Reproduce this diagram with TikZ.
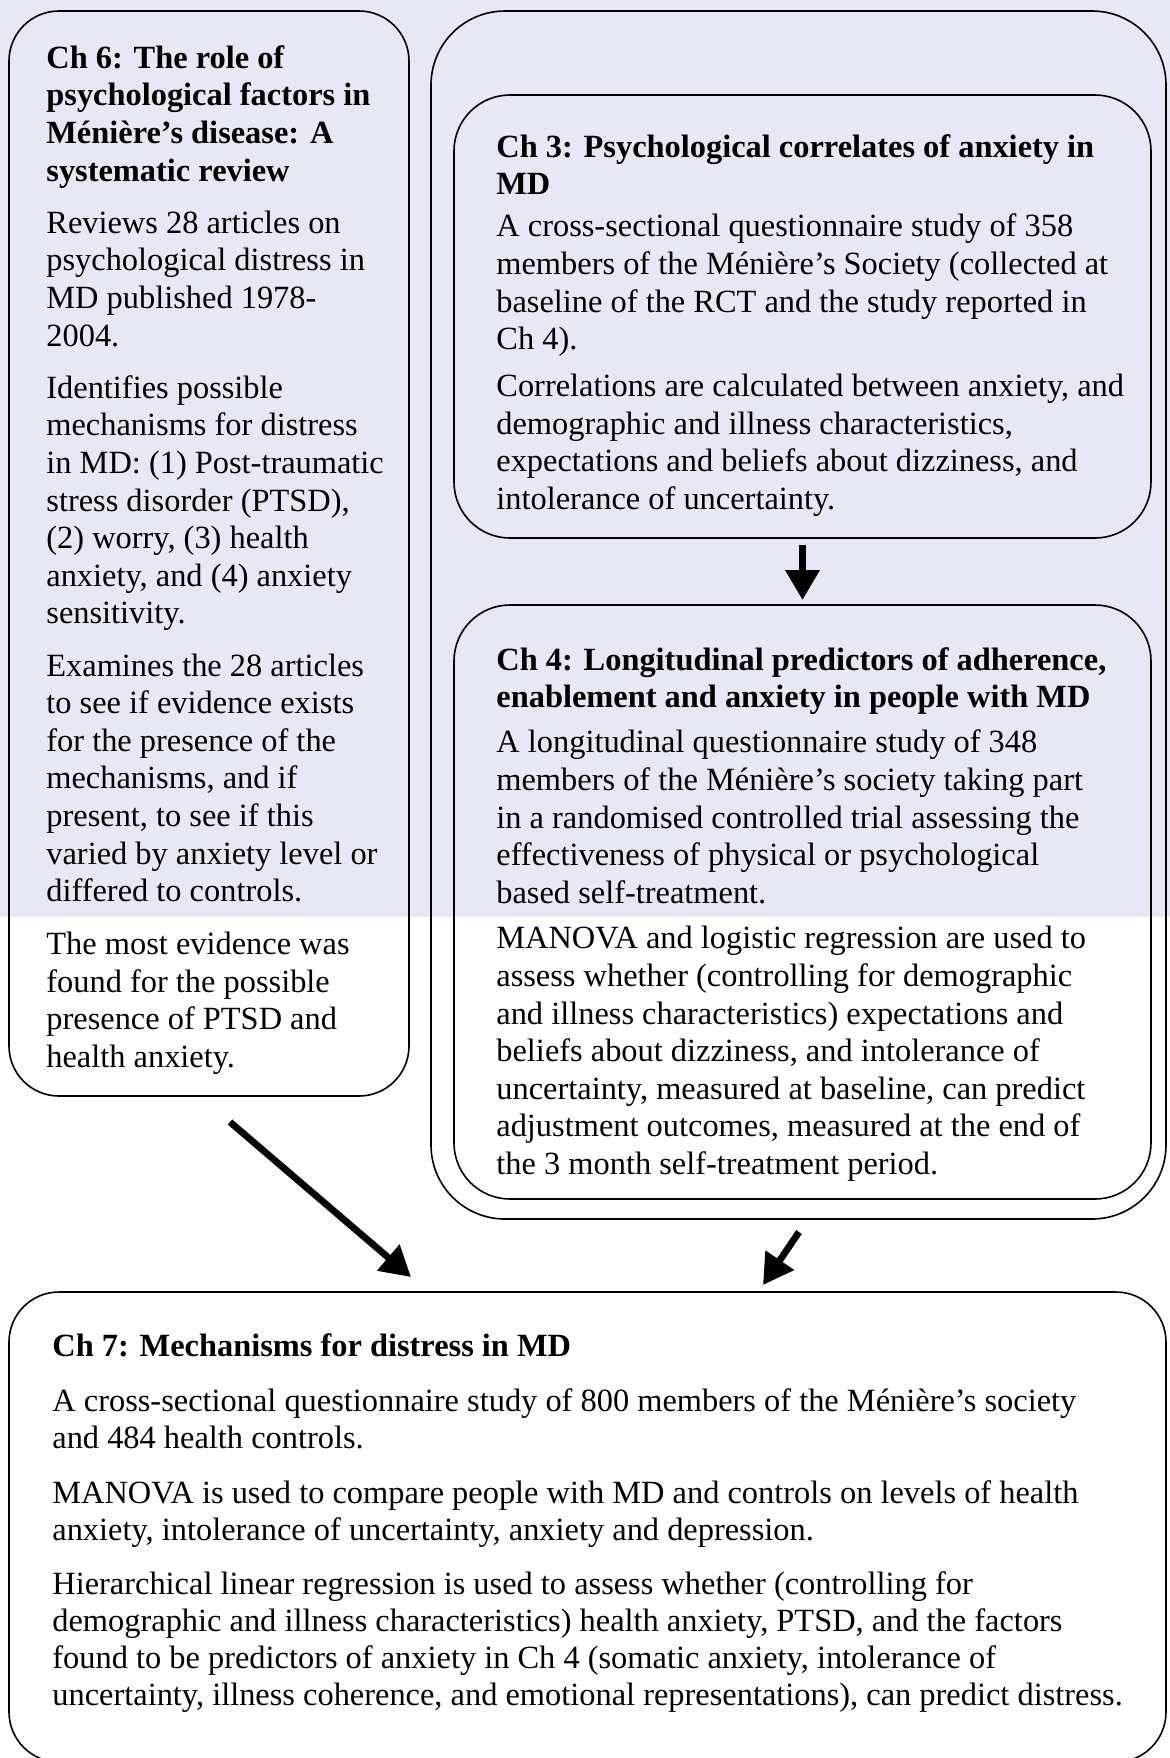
\documentclass[tikz,border=0pt]{standalone}
\usepackage{fontspec}
\setmainfont{Liberation Serif}
\usetikzlibrary{arrows.meta}
\definecolor{scanlav}{RGB}{231,231,246}
\begin{document}
\begin{tikzpicture}[x=0.5pt,y=-0.5pt,
  chbox/.style={draw=black, line width=0.8pt, rounded corners=#1, anchor=north west, inner sep=0pt, outer sep=0pt},
  txt/.style={anchor=north west, align=left, inner sep=0pt, font=\fontsize{16.2pt}{18.8pt}\selectfont},
  txtb/.style={txt, font=\fontsize{16.2pt}{18.5pt}\selectfont},
  bigarrow/.style={line width=3.4pt, -{Triangle[length=15pt,width=16.5pt]}}
]
\useasboundingbox (0,0) rectangle (1170,1758);
\fill[scanlav] (0,0) rectangle (1170,917);

% boxes
\node[chbox=25pt, minimum width=200pt, minimum height=542.5pt] (ch6) at (9,11) {};
\node[chbox=37pt, minimum width=367.5pt, minimum height=604pt] (outer) at (431,11) {};
\node[chbox=28pt, minimum width=348.5pt, minimum height=221.5pt] (ch3) at (454,95) {};
\node[chbox=28pt, minimum width=348.5pt, minimum height=297pt] (ch4) at (454,605) {};
\node[chbox=25pt, minimum width=578.5pt, minimum height=235pt] (ch7) at (9,1292) {};

% texts
\node[txt] (t6) at (46,45) {%
\textbf{Ch 6: The role of}\\
\textbf{psychological factors in}\\
\textbf{Ménière’s disease: A}\\
\textbf{systematic review}\\[7.3pt]
Reviews 28 articles on\\
psychological distress in\\
MD published 1978-\\
2004.\\[7.3pt]
Identifies possible\\
mechanisms for distress\\
in MD: (1) Post-traumatic\\
stress disorder (PTSD),\\
(2) worry, (3) health\\
anxiety, and (4) anxiety\\
sensitivity.\\[7.3pt]
Examines the 28 articles\\
to see if evidence exists\\
for the presence of the\\
mechanisms, and if\\
present, to see if this\\
varied by anxiety level or\\
differed to controls.\\[7.6pt]
The most evidence was\\
found for the possible\\
presence of PTSD and\\
health anxiety.};

\node[txt] (t3) at (496,134) {%
\textbf{Ch 3: Psychological correlates of anxiety in}\\
\textbf{MD}\\[2.2pt]
A cross-sectional questionnaire study of 358\\
members of the Ménière’s Society (collected at\\
baseline of the RCT and the study reported in\\
Ch 4).\\[4.6pt]
Correlations are calculated between anxiety, and\\
demographic and illness characteristics,\\
expectations and beliefs about dizziness, and\\
intolerance of uncertainty.};

\node[txt] (t4) at (496,647) {%
\textbf{Ch 4: Longitudinal predictors of adherence,}\\
\textbf{enablement and anxiety in people with MD}\\[3.7pt]
A longitudinal questionnaire study of 348\\
members of the Ménière’s society taking part\\
in a randomised controlled trial assessing the\\
effectiveness of physical or psychological\\
based self-treatment.\\[4.0pt]
MANOVA and logistic regression are used to\\
assess whether (controlling for demographic\\
and illness characteristics) expectations and\\
beliefs about dizziness, and intolerance of\\
uncertainty, measured at baseline, can predict\\
adjustment outcomes, measured at the end of\\
the 3 month self-treatment period.};

\node[txtb] (t7) at (52,1333) {%
\textbf{Ch 7: Mechanisms for distress in MD}\\[9pt]
A cross-sectional questionnaire study of 800 members of the Ménière’s society\\
and 484 health controls.\\[9pt]
MANOVA is used to compare people with MD and controls on levels of health\\
anxiety, intolerance of uncertainty, anxiety and depression.\\[8.8pt]
Hierarchical linear regression is used to assess whether (controlling for\\
demographic and illness characteristics) health anxiety, PTSD, and the factors\\
found to be predictors of anxiety in Ch 4 (somatic anxiety, intolerance of\\
uncertainty, illness coherence, and emotional representations), can predict distress.};

% arrows
\draw[bigarrow, shorten <=3.5pt, shorten >=2.5pt] (ch3.south) -- (ch4.north);
\coordinate (a2s) at (230,1122);
\coordinate (a2e) at (411,1277);
\draw[bigarrow] (a2s) -- (a2e);
\coordinate (a3s) at (799,1232);
\coordinate (a3e) at (763,1285);
\draw[bigarrow] (a3s) -- (a3e);
\end{tikzpicture}
\end{document}
